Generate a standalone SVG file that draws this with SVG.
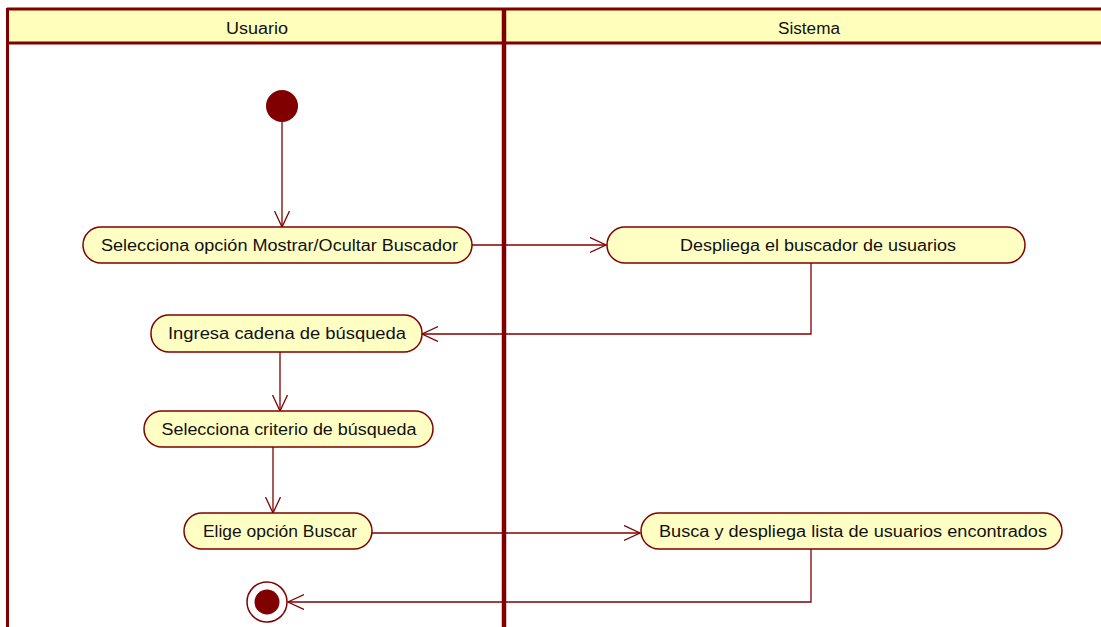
<svg xmlns="http://www.w3.org/2000/svg" width="1101" height="627" viewBox="0 0 1101 627">
  <defs>
    <style>
      .lane { stroke: #800000; fill: none; }
      .hdr { fill: #ffffbb; }
      .node { fill: #ffffc4; stroke: #800000; stroke-width: 1.5; }
      .txt { font-family: "Liberation Sans", Arial, sans-serif; font-size: 16px; fill: #111; text-anchor: middle; dominant-baseline: central; }
      .conn { stroke: #800000; stroke-width: 1.3; fill: none; }
    </style>
    <marker id="arr" markerUnits="userSpaceOnUse" markerWidth="20" markerHeight="20" refX="16" refY="8" orient="auto">
      <path d="M0,0.5 L16,8 L0,15.5" fill="none" stroke="#800000" stroke-width="1.3"/>
    </marker>
  </defs>

  <g id="swimlanes">
    <rect class="hdr" x="7" y="9" width="1094" height="35"/>
    <line class="lane" x1="7" y1="9" x2="1101" y2="9" stroke-width="3"/>
    <line class="lane" x1="7" y1="43" x2="1101" y2="43" stroke-width="3"/>
    <line class="lane" x1="7.5" y1="8" x2="7.5" y2="627" stroke-width="3"/>
    <line class="lane" x1="504" y1="8" x2="504" y2="627" stroke-width="4.5"/>
    <text class="txt" x="257" y="28" textLength="62" lengthAdjust="spacingAndGlyphs">Usuario</text>
    <text class="txt" x="809" y="28" textLength="62" lengthAdjust="spacingAndGlyphs">Sistema</text>
  </g>

  <g id="connectors">
    <path class="conn" d="M282,122 L282,227" marker-end="url(#arr)"/>
    <path class="conn" d="M472,245 L606,245" marker-end="url(#arr)"/>
    <path class="conn" d="M811,263 L811,334 L422,334" marker-end="url(#arr)"/>
    <path class="conn" d="M280,352 L280,411" marker-end="url(#arr)"/>
    <path class="conn" d="M273,447 L273,513" marker-end="url(#arr)"/>
    <path class="conn" d="M372,533 L640,533" marker-end="url(#arr)"/>
    <path class="conn" d="M811,549 L811,602 L288,602" marker-end="url(#arr)"/>
  </g>

  <g id="start">
    <circle cx="282" cy="106" r="16" fill="#800000"/>
  </g>

  <g id="n1">
    <rect class="node" x="83" y="227" width="389" height="36" rx="18"/>
    <text class="txt" x="279.5" y="245" textLength="357" lengthAdjust="spacingAndGlyphs">Selecciona opción Mostrar/Ocultar Buscador</text>
  </g>

  <g id="n2">
    <rect class="node" x="607" y="227" width="418" height="36" rx="18"/>
    <text class="txt" x="818" y="245" textLength="276" lengthAdjust="spacingAndGlyphs">Despliega el buscador de usuarios</text>
  </g>

  <g id="n3">
    <rect class="node" x="151" y="315" width="271" height="37" rx="18"/>
    <text class="txt" x="287" y="333.5" textLength="238" lengthAdjust="spacingAndGlyphs">Ingresa cadena de búsqueda</text>
  </g>

  <g id="n4">
    <rect class="node" x="144" y="411" width="289" height="36" rx="18"/>
    <text class="txt" x="289" y="429" textLength="255" lengthAdjust="spacingAndGlyphs">Selecciona criterio de búsqueda</text>
  </g>

  <g id="n5">
    <rect class="node" x="184" y="513" width="188" height="36" rx="18"/>
    <text class="txt" x="280" y="531" textLength="154" lengthAdjust="spacingAndGlyphs">Elige opción Buscar</text>
  </g>

  <g id="n6">
    <rect class="node" x="641" y="513" width="421" height="36" rx="18"/>
    <text class="txt" x="853" y="531" textLength="388" lengthAdjust="spacingAndGlyphs">Busca y despliega lista de usuarios encontrados</text>
  </g>

  <g id="end">
    <circle cx="267" cy="602" r="20" fill="#ffffff" stroke="#800000" stroke-width="1.5"/>
    <circle cx="267" cy="602" r="12.5" fill="#800000"/>
  </g>
</svg>
